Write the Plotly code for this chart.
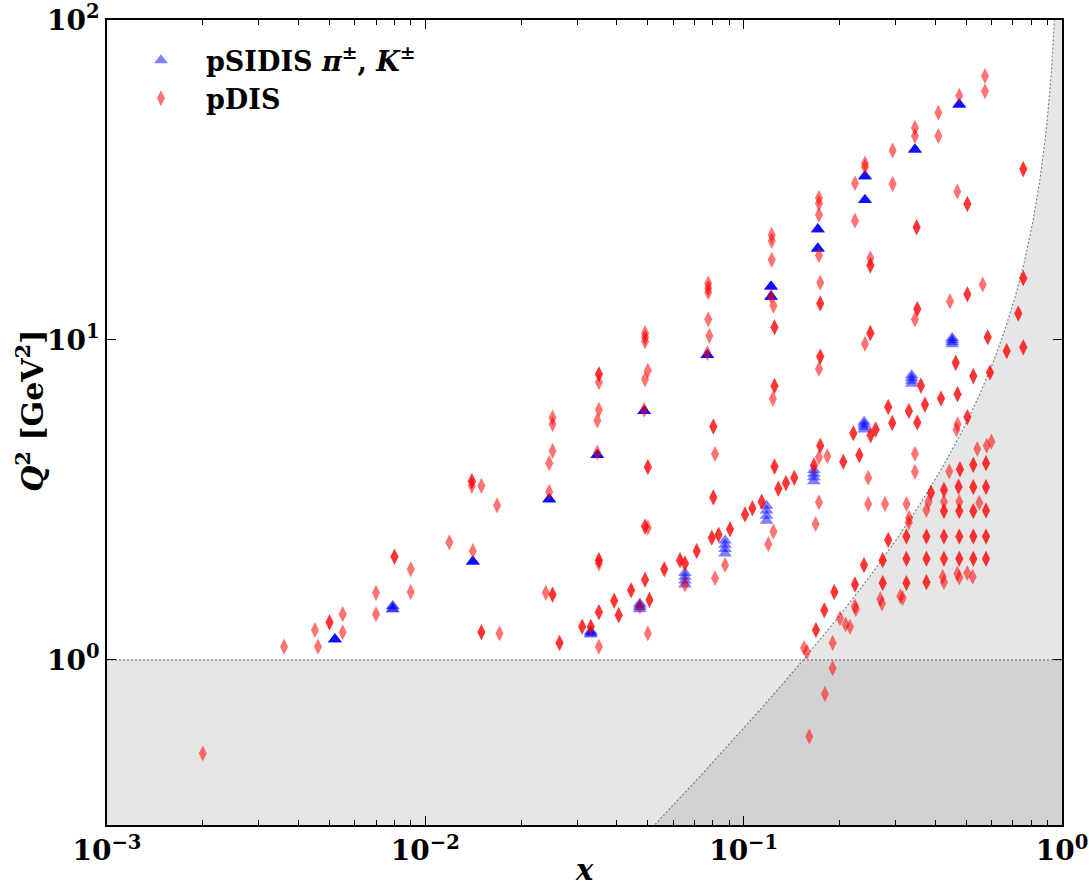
import numpy as np
import plotly.graph_objects as go

# ---------------- data ----------------
# pSIDIS (pi+-, K+-): kinematic points, n = number of overlapping measurements
sidis_x = [0.0052, 0.0079, 0.0079, 0.0141, 0.0245, 0.0347, 0.0487, 0.0769,
           0.1219, 0.1219, 0.1710, 0.1710, 0.2405, 0.2405, 0.3452, 0.4757,
           0.0331, 0.0331, 0.0331, 0.0331,
           0.0472, 0.0472, 0.0472, 0.0472,
           0.0654, 0.0654, 0.0654, 0.0654,
           0.0874, 0.0874, 0.0874, 0.0874,
           0.1180, 0.1180, 0.1180, 0.1180,
           0.1662, 0.1662, 0.1662, 0.1662,
           0.2390, 0.2390, 0.2390, 0.2390,
           0.3372, 0.3372, 0.3372, 0.3372,
           0.4520, 0.4520, 0.4520, 0.4520]
sidis_q2 = [1.16, 1.44, 1.47, 2.03, 3.18, 4.37, 6.00, 8.98,
            14.7, 13.65, 22.2, 19.3, 32.5, 27.4, 39.4, 54.4,
            1.20, 1.21, 1.22, 1.23,
            1.44, 1.46, 1.48, 1.50,
            1.72, 1.77, 1.82, 1.87,
            2.15, 2.22, 2.29, 2.36,
            2.72, 2.82, 2.93, 3.03,
            3.62, 3.72, 3.82, 3.92,
            5.25, 5.35, 5.45, 5.55,
            7.30, 7.45, 7.60, 7.75,
            9.70, 9.85, 10.0, 10.15]
sidis_n = [4, 2, 2, 4, 4, 4, 4, 4, 4, 4, 4, 4, 4, 4, 4, 4] + [1] * 36

# pDIS
pdis_x = [0.0020, 0.0036, 0.0045, 0.0046, 0.0050, 0.0055, 0.0055, 0.0070, 0.0070, 0.0080,
          0.0090, 0.0090, 0.0119, 0.0141, 0.0140, 0.0140, 0.0150, 0.0168, 0.0150, 0.0171,
          0.0251, 0.0251, 0.0251, 0.0245, 0.0245, 0.0239, 0.0251, 0.0264, 0.0311, 0.0331,
          0.0351, 0.0351, 0.0351, 0.0347, 0.0347, 0.0351, 0.0351, 0.0351, 0.0351, 0.0392,
          0.0405, 0.0443, 0.0472, 0.0490, 0.0490, 0.0490, 0.0500, 0.0490, 0.0487, 0.0500,
          0.0490, 0.0500, 0.0490, 0.0506, 0.0500, 0.0563, 0.0631, 0.0654, 0.0654, 0.0712,
          0.0774, 0.0774, 0.0774, 0.0774, 0.0780, 0.0769, 0.0803, 0.0813, 0.0803, 0.0794,
          0.0834, 0.0813, 0.0874, 0.0906, 0.1010, 0.1065, 0.1139, 0.1240, 0.1195, 0.1225,
          0.1225, 0.1225, 0.1219, 0.1240, 0.1250, 0.1250, 0.1235, 0.1250, 0.1285, 0.1358,
          0.1442, 0.1724, 0.1724, 0.1724, 0.1724, 0.1740, 0.1740, 0.1740, 0.1724, 0.1740,
          0.1724, 0.1832, 0.1663, 0.1724, 0.1683, 0.2056, 0.2309, 0.2211, 0.2505, 0.2598,
          0.2462, 0.2462, 0.2405, 0.2405, 0.2237, 0.2237, 0.2500, 0.2500, 0.2500, 0.2405,
          0.4089, 0.4089, 0.3452, 0.3452, 0.2938, 0.2938, 0.4757, 0.4690, 0.5043, 0.3495,
          0.4448, 0.5043, 0.5636, 0.3511, 0.3452, 0.4636, 0.3605, 0.2845, 0.3305, 0.2929,
          0.3511, 0.3711, 0.4168, 0.4697, 0.3452, 0.3452, 0.2780, 0.3249, 0.4700, 0.4660,
          0.2845, 0.2388, 0.2237, 0.2237, 0.2250, 0.5729, 0.5729, 0.7557, 0.7557, 0.7289,
          0.5843, 0.7557, 0.6703, 0.5265, 0.5940, 0.5043,
          0.542, 0.580, 0.600, 0.4424, 0.478, 0.5265, 0.5772, 0.3877, 0.4258, 0.4733,
          0.5265, 0.5772, 0.381, 0.375, 0.4258, 0.4258, 0.4757, 0.4757, 0.5265, 0.5497,
          0.5772, 0.331, 0.330,
          0.3246, 0.3752, 0.4258, 0.4757, 0.5265, 0.5772,
          0.2734, 0.3246, 0.3752, 0.4258, 0.4757, 0.5265, 0.5772,
          0.2734, 0.3246, 0.3752, 0.4258, 0.4219, 0.469, 0.4757, 0.504, 0.5242,
          0.2687, 0.2720, 0.3106, 0.3158,
          0.1926, 0.1792, 0.2007, 0.2091, 0.2158, 0.1687, 0.1904, 0.1547, 0.1580, 0.1904,
          0.1800, 0.1608]
pdis_q2 = [0.51, 1.10, 1.24, 1.10, 1.31, 1.39, 1.22, 1.62, 1.39, 2.10,
           1.92, 1.63, 2.33, 2.19, 3.62, 3.50, 3.50, 3.04, 1.22, 1.21,
           5.72, 5.45, 4.50, 4.12, 3.35, 1.62, 1.60, 1.13, 1.27, 1.27,
           7.81, 7.38, 6.05, 5.60, 4.45, 2.05, 2.00, 1.41, 1.10, 1.53,
           1.38, 1.65, 1.47, 10.5, 10.2, 9.9, 8.02, 7.54, 6.05, 4.01,
           2.61, 2.59, 1.78, 1.54, 1.21, 1.92, 2.05, 2.00, 1.72, 2.19,
           15.0, 14.5, 14.1, 11.6, 10.3, 9.1, 5.36, 4.40, 3.22, 2.41,
           2.46, 1.80, 1.98, 2.56, 2.85, 2.98, 3.12, 2.52, 2.30, 21.3,
           20.4, 17.8, 13.7, 12.8, 10.96, 7.18, 6.55, 4.02, 3.43, 3.57,
           3.71, 27.8, 26.7, 24.6, 18.4, 15.1, 13.0, 8.87, 8.12, 4.67,
           4.30, 4.33, 4.05, 3.11, 2.66, 4.16, 4.37, 5.11, 5.04, 5.25,
           3.71, 3.07, 35.6, 34.7, 30.9, 23.6, 18.0, 17.1, 10.5, 9.72,
           51.3, 43.4, 46.0, 43.4, 39.1, 30.7, 58.0, 29.1, 26.6, 22.5,
           13.2, 13.9, 14.9, 12.5, 11.6, 8.48, 7.20, 6.17, 6.00, 5.50,
           5.52, 6.28, 6.56, 6.77, 4.41, 3.87, 3.07, 3.07, 5.45, 5.25,
           2.37, 1.98, 1.72, 1.47, 1.44, 66.8, 59.9, 34.2, 15.6, 12.1,
           10.2, 9.48, 9.23, 7.71, 7.91, 5.74,
           4.56, 4.67, 4.81, 3.88, 3.94, 4.07, 4.12, 3.33, 3.40, 3.48,
           3.47, 3.47, 3.12, 2.94, 3.12, 2.92, 3.12, 2.92, 2.92, 3.10,
           2.93, 2.78, 2.69,
           2.43, 2.43, 2.43, 2.43, 2.43, 2.43,
           2.05, 2.07, 2.07, 2.07, 2.07, 2.07, 2.07,
           1.74, 1.74, 1.75, 1.75, 1.82, 1.86, 1.81, 1.87, 1.82,
           1.55, 1.50, 1.58, 1.56,
           1.63, 1.43, 1.35, 1.29, 1.27, 1.24, 1.13, 1.09, 1.06, 0.942,
           0.783, 0.576]
pdis_n = [1, 1, 1, 1, 2, 1, 1, 1, 1, 2,
          1, 1, 1, 1, 2, 1, 1, 1, 2, 1,
          1, 1, 1, 1, 1, 1, 2, 2, 2, 2,
          2, 1, 1, 1, 1, 2, 1, 2, 1, 2,
          2, 2, 1, 1, 1, 1, 1, 1, 1, 2,
          2, 1, 2, 2, 1, 2, 2, 2, 1, 2,
          1, 1, 1, 1, 1, 1, 2, 1, 2, 2,
          2, 1, 1, 2, 2, 2, 2, 1, 1, 1,
          1, 1, 1, 1, 2, 2, 1, 2, 2, 2,
          2, 1, 1, 1, 1, 1, 2, 2, 1, 2,
          1, 1, 2, 1, 1, 2, 2, 2, 2, 2,
          1, 1, 1, 1, 1, 1, 1, 2, 2, 1,
          1, 1, 1, 1, 1, 1, 1, 1, 2, 2,
          1, 2, 1, 2, 1, 2, 2, 2, 2, 2,
          2, 2, 2, 2, 1, 1, 1, 1, 1, 1,
          2, 2, 2, 1, 1, 1, 1, 2, 2, 2,
          2, 2, 2, 2, 2, 2,
          1, 1, 1, 1, 2, 2, 2, 2, 2, 2,
          2, 2, 1, 1, 1, 2, 1, 2, 2, 1,
          2, 1, 1,
          2, 2, 2, 2, 2, 2,
          2, 2, 2, 2, 2, 2, 2,
          2, 2, 2, 1, 1, 1, 1, 1, 1,
          1, 1, 1, 1,
          2, 2, 1, 1, 1, 2, 1, 1, 1, 1,
          1, 1]

x_tick_vals = [1e-3, 1e-2, 1e-1, 1e0]
x_tick_text = ["10<sup>−3</sup>", "10<sup>−2</sup>", "10<sup>−1</sup>", "10<sup>0</sup>"]
y_tick_vals = [1e0, 1e1, 1e2]
y_tick_text = ["10<sup>0</sup>", "10<sup>1</sup>", "10<sup>2</sup>"]

# kinematic cuts
Q2_CUT = 1.0
W2_MINUS_M2 = 5.5      # Q2 = (W2 - M2) x / (1 - x)
X_LOG_RANGE = [-3, 0]
Y_LOG_RANGE = [-0.516, 2]

# ---------------- build figure ----------------
def expand(xs, qs, ns):
    ex, eq = [], []
    for a, b, n in zip(xs, qs, ns):
        ex += [a] * n
        eq += [b] * n
    return ex, eq

SERIF = "DejaVu Serif"
shade = "rgba(128,128,128,0.2)"
cutline = dict(color="rgba(110,110,110,0.9)", width=1.1, dash="2px,2px")

fig = go.Figure()

# Q2 < 1 band
fig.add_trace(go.Scatter(x=[1e-4, 10, 10, 1e-4, 1e-4], y=[0.01, 0.01, Q2_CUT, Q2_CUT, 0.01],
                         fill="toself", fillcolor=shade, mode="lines", line=dict(width=0),
                         hoverinfo="skip", showlegend=False))
# W2 cut region
xc = np.logspace(-1.6, np.log10(0.99995), 500)
yc = W2_MINUS_M2 * xc / (1 - xc)
fig.add_trace(go.Scatter(x=list(xc) + [10, 10, xc[0]], y=list(yc) + [yc[-1], 0.01, 0.01],
                         fill="toself", fillcolor=shade, mode="lines", line=dict(width=0),
                         hoverinfo="skip", showlegend=False))
fig.add_trace(go.Scatter(x=[1e-3, 1], y=[Q2_CUT, Q2_CUT], mode="lines", line=cutline,
                         hoverinfo="skip", showlegend=False))
fig.add_trace(go.Scatter(x=xc, y=yc, mode="lines", line=cutline,
                         hoverinfo="skip", showlegend=False))

sx, sq = expand(sidis_x, sidis_q2, sidis_n)
px, pq = expand(pdis_x, pdis_q2, pdis_n)

fig.add_trace(go.Scatter(x=sx, y=sq, mode="markers",
                         name="pSIDIS <i>π</i><sup>±</sup>, <i>K</i><sup>±</sup>",
                         marker=dict(symbol="triangle-up", size=12, color="blue",
                                     opacity=0.5, line=dict(width=0))))
fig.add_trace(go.Scatter(x=px, y=pq, mode="markers", name="pDIS",
                         marker=dict(symbol="diamond-tall", size=11.5, color="red",
                                     opacity=0.55, line=dict(width=0))))

axis_common = dict(type="log", showgrid=False, zeroline=False, showline=True,
                   linecolor="black", linewidth=1.5, mirror="ticks", automargin=False,
                   ticklabeloverflow="allow",
                   ticks="inside", ticklen=9, tickwidth=1.2, tickcolor="black",
                   tickfont=dict(family=SERIF, size=28, color="black", weight="bold"))

minor_x = [m * 10.0 ** e for e in (-3, -2, -1) for m in range(2, 10)]

fig.update_layout(
    width=1089, height=890,
    margin=dict(l=107, r=27, t=20, b=65),
    paper_bgcolor="white", plot_bgcolor="white",
    xaxis=dict(range=X_LOG_RANGE, tickvals=x_tick_vals, ticktext=x_tick_text,
               minor=dict(tickvals=minor_x, ticks="inside", ticklen=5, tickwidth=1,
                          tickcolor="black", showgrid=False),
               **axis_common),
    yaxis=dict(range=Y_LOG_RANGE, tickvals=y_tick_vals, ticktext=y_tick_text, **axis_common),
    legend=dict(x=0.0094, y=0.98, xanchor="left", yanchor="top",
                bgcolor="rgba(0,0,0,0)", itemwidth=80,
                font=dict(family=SERIF, size=27, color="black", weight="bold")),
    annotations=[
        dict(text="<i>x</i>", xref="paper", yref="paper", x=0.5, y=-0.0795,
             xanchor="center", yanchor="bottom", showarrow=False,
             font=dict(family=SERIF, size=29, color="black", weight="bold")),
        dict(text="<i>Q</i><sup>2</sup> [GeV<sup>2</sup>]", xref="paper", yref="paper",
             x=-0.08, y=0.514, xanchor="center", yanchor="middle", textangle=-90,
             showarrow=False,
             font=dict(family=SERIF, size=30, color="black", weight="bold")),
    ],
)

fig.write_html("out.html")
